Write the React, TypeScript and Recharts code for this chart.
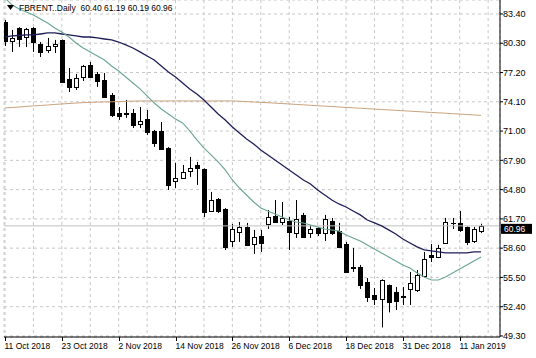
import React from 'react';
import { ComposedChart, Bar, Line, XAxis, YAxis, CartesianGrid, ReferenceLine } from 'recharts';

// FBRENT daily candles, 11 Oct 2018 .. 16 Jan 2019
const dates = [
  '11 Oct 2018', '12 Oct 2018', '15 Oct 2018', '16 Oct 2018', '17 Oct 2018', '18 Oct 2018', '19 Oct 2018', '22 Oct 2018',
  '23 Oct 2018', '24 Oct 2018', '25 Oct 2018', '26 Oct 2018', '29 Oct 2018', '30 Oct 2018', '31 Oct 2018', '1 Nov 2018',
  '2 Nov 2018', '5 Nov 2018', '6 Nov 2018', '7 Nov 2018', '8 Nov 2018', '9 Nov 2018', '12 Nov 2018', '13 Nov 2018',
  '14 Nov 2018', '15 Nov 2018', '16 Nov 2018', '19 Nov 2018', '20 Nov 2018', '21 Nov 2018', '22 Nov 2018', '23 Nov 2018',
  '26 Nov 2018', '27 Nov 2018', '28 Nov 2018', '29 Nov 2018', '30 Nov 2018', '3 Dec 2018', '4 Dec 2018', '5 Dec 2018',
  '6 Dec 2018', '7 Dec 2018', '10 Dec 2018', '11 Dec 2018', '12 Dec 2018', '13 Dec 2018', '14 Dec 2018', '17 Dec 2018',
  '18 Dec 2018', '19 Dec 2018', '20 Dec 2018', '21 Dec 2018', '24 Dec 2018', '26 Dec 2018', '27 Dec 2018', '28 Dec 2018',
  '31 Dec 2018', '2 Jan 2019', '3 Jan 2019', '4 Jan 2019', '7 Jan 2019', '8 Jan 2019', '9 Jan 2019', '10 Jan 2019',
  '11 Jan 2019', '14 Jan 2019', '15 Jan 2019', '16 Jan 2019',
];

const open = [
  82.55, 80.54, 81.92, 80.96, 81.92, 80.22, 79.59, 80.01, 80.65, 76.52, 75.67, 76.73, 78.0, 77.05, 76.41, 74.82,
  72.92, 72.85, 72.92, 71.75, 72.28, 71.01, 71.01, 69.21, 65.72, 66.04, 66.77, 67.41, 66.99, 62.54, 63.81, 62.75,
  59.36, 60.32, 60.84, 59.04, 59.89, 61.16, 62.01, 61.37, 61.48, 60.21, 62.12, 60.21, 60.74, 60.21, 61.48, 60.42,
  59.04, 56.61, 56.61, 55.02, 53.64, 53.22, 54.7, 53.96, 53.53, 54.28, 54.17, 55.65, 57.88, 57.67, 59.15, 61.27,
  61.27, 60.84, 59.36, 60.4,
];
const high = [
  82.76, 81.71, 82.0, 81.92, 82.0, 80.43, 80.86, 80.65, 80.7, 77.68, 77.05, 78.0, 78.32, 77.26, 77.15, 75.03,
  73.55, 74.29, 73.34, 73.55, 73.23, 71.12, 71.96, 69.3, 67.62, 67.41, 68.26, 67.73, 67.05, 64.55, 63.91, 62.85,
  61.16, 61.37, 61.27, 60.53, 60.53, 62.64, 63.7, 63.49, 61.9, 63.7, 62.33, 61.05, 60.84, 62.12, 61.8, 61.27,
  59.26, 58.62, 56.82, 55.44, 54.38, 55.3, 54.75, 54.49, 54.49, 56.08, 56.29, 58.2, 59.04, 58.94, 61.8, 61.8,
  62.54, 60.9, 60.84, 61.19,
];
const low = [
  80.0, 79.38, 79.91, 79.91, 79.38, 78.85, 79.27, 79.27, 76.09, 75.14, 75.35, 76.3, 76.62, 75.67, 74.5, 72.49,
  72.17, 72.39, 71.33, 71.33, 70.59, 69.32, 69.0, 64.76, 64.97, 65.93, 66.14, 65.29, 61.9, 62.43, 62.33, 58.41,
  58.73, 59.26, 58.9, 57.99, 58.2, 60.63, 61.27, 61.05, 58.41, 59.68, 59.68, 59.68, 59.89, 59.36, 60.0, 58.6,
  55.97, 56.08, 54.28, 52.9, 52.58, 50.2, 51.8, 52.05, 52.58, 52.58, 53.96, 55.55, 57.14, 57.56, 59.04, 60.63,
  60.32, 58.94, 59.15, 60.19,
];
const close = [
  80.54, 80.86, 80.75, 81.81, 80.43, 79.38, 80.01, 80.22, 76.2, 75.67, 76.62, 77.89, 76.73, 76.3, 74.61, 72.7,
  72.6, 72.92, 71.65, 72.07, 70.9, 69.74, 69.1, 65.29, 66.04, 66.67, 67.09, 67.09, 62.43, 63.7, 62.54, 58.73,
  60.63, 60.84, 58.94, 59.78, 59.15, 61.9, 61.37, 61.8, 60.32, 61.69, 59.78, 60.63, 60.21, 61.69, 60.21, 58.73,
  56.08, 56.5, 54.71, 53.43, 53.22, 55.23, 52.9, 53.01, 53.43, 54.91, 55.76, 57.45, 57.67, 58.62, 61.37, 61.3,
  60.53, 59.26, 60.63, 60.96,
];

// moving averages as drawn on the chart
const maSlow = [
  80.96, 81.07, 81.12, 81.18, 81.18, 81.28, 81.39, 81.39, 81.28, 81.18, 81.07, 80.96, 80.96, 80.86, 80.75, 80.65,
  80.43, 80.12, 79.8, 79.38, 78.95, 78.53, 77.89, 77.26, 76.73, 76.09, 75.46, 74.93, 74.29, 73.55, 72.81, 72.17,
  71.43, 70.8, 70.16, 69.63, 69.0, 68.47, 67.94, 67.41, 66.88, 66.35, 65.82, 65.4, 64.76, 64.23, 63.7, 63.28,
  62.96, 62.54, 62.12, 61.58, 61.27, 60.95, 60.53, 60.1, 59.57, 59.15, 58.73, 58.41, 58.3, 58.2, 58.09, 58.09,
  58.09, 58.09, 58.2, 58.2,
];
const maFast = [
  85.09, 84.35, 83.93, 83.61, 83.29, 82.87, 82.45, 81.92, 81.49, 80.96, 80.33, 79.8, 79.38, 78.95, 78.53, 77.89,
  77.36, 76.73, 76.09, 75.46, 74.72, 73.97, 73.34, 72.81, 72.28, 71.86, 71.01, 70.06, 69.21, 68.47, 67.73, 66.88,
  65.82, 64.97, 64.23, 63.49, 62.85, 62.54, 62.22, 61.9, 61.58, 61.37, 61.27, 61.05, 60.84, 60.63, 60.53, 60.42,
  60.0, 59.68, 59.36, 58.94, 58.51, 58.09, 57.67, 57.24, 56.82, 56.5, 55.97, 55.55, 55.23, 55.23, 55.55, 55.97,
  56.4, 56.82, 57.24, 57.67,
];
const maLong = [
  73.45, 73.5, 73.55, 73.61, 73.66, 73.71, 73.76, 73.82, 73.87, 73.92, 73.97, 74.01, 74.04, 74.07, 74.08, 74.1,
  74.12, 74.15, 74.17, 74.19, 74.19, 74.19, 74.19, 74.19, 74.19, 74.19, 74.19, 74.19, 74.19, 74.19, 74.19, 74.19,
  74.19, 74.16, 74.12, 74.08, 74.04, 74.0, 73.96, 73.91, 73.87, 73.82, 73.78, 73.73, 73.68, 73.64, 73.59, 73.55,
  73.5, 73.46, 73.42, 73.37, 73.33, 73.28, 73.24, 73.2, 73.15, 73.11, 73.06, 73.02, 72.97, 72.93, 72.89, 72.84,
  72.8, 72.75, 72.71, 72.66,
];

const priceTicks = [49.3, 52.4, 55.5, 58.6, 61.7, 64.8, 67.9, 71.0, 74.1, 77.2, 80.3, 83.4];
const gridTicks = [0, 4, 8, 12, 16, 20, 24, 28, 32, 36, 40, 44, 48, 52, 56, 60, 64, 68];
const labelTicks = [0, 8, 16, 24, 32, 40, 48, 56, 64];

const data = dates.map((d, i) => ({
  i,
  date: d,
  open: open[i],
  high: high[i],
  low: low[i],
  close: close[i],
  range: [low[i], high[i]],
  maSlow: maSlow[i],
  maFast: maFast[i],
  maLong: maLong[i],
}));

const last = data[data.length - 1];
const FONT = '"Liberation Sans", Arial, sans-serif';

const Candle = (props: any) => {
  const { x, y, width, height, payload } = props;
  if (!payload) return null;
  const { open: o, close: c, high: h, low: l } = payload;
  const cx = Math.round(x + width / 2) + 0.5;
  const py = (v: number) => y + ((h - v) / (h - l)) * height;
  const top = Math.round(py(Math.max(o, c))) + 0.5;
  const bot = Math.round(py(Math.min(o, c))) + 0.5;
  const up = c >= o;
  return (
    <g>
      <line x1={cx} x2={cx} y1={y} y2={y + height} stroke="#000" strokeWidth={1} />
      <rect
        x={cx - 2}
        y={top}
        width={4}
        height={Math.max(bot - top, 0.01)}
        fill={up ? '#fff' : '#000'}
        stroke="#000"
        strokeWidth={1}
      />
    </g>
  );
};

const DateTick = (props: any) => {
  const { x, y, payload } = props;
  if (!labelTicks.includes(payload.value)) return null;
  const tx = Math.round(x) + 0.5;
  return (
    <g>
      <line x1={tx} x2={tx} y1={y} y2={y + 4} stroke="#000" />
      <text x={tx - 1} y={y + 12} fontSize={8.5} fontFamily={FONT} fill="#000" textAnchor="start">
        {dates[payload.value]}
      </text>
    </g>
  );
};

const BidLabel = (props: any) => {
  const vb = props.viewBox;
  if (!vb) return null;
  const x0 = vb.x + vb.width + 1;
  const y0 = vb.y;
  return (
    <g>
      <rect x={x0} y={y0 - 2} width={31} height={10} fill="#000" />
      <text x={x0 + 3} y={y0 + 6} fontSize={8.5} fontFamily={FONT} fill="#fff">
        {last.close.toFixed(2)}
      </text>
    </g>
  );
};

export default function App() {
  return (
    <div style={{ position: 'absolute', left: 0, top: 0, width: 536, height: 358, background: '#fff' }}>
      <ComposedChart width={536} height={358} data={data} margin={{ top: 0, right: 0, bottom: 0, left: 4 }}>
        <CartesianGrid stroke="#c8c8c8" strokeDasharray="3 3" />
        <XAxis
          dataKey="i"
          type="number"
          domain={[-0.14, 69.67]}
          allowDataOverflow
          ticks={gridTicks}
          interval={0}
          height={21}
          tickSize={0}
          tickMargin={0}
          tickLine={false}
          axisLine={{ stroke: '#000' }}
          tick={<DateTick />}
        />
        <YAxis
          orientation="right"
          domain={[49.19, 84.88]}
          allowDataOverflow
          ticks={priceTicks}
          interval={0}
          width={36}
          tickSize={3}
          tickMargin={0}
          tickFormatter={(v: number) => v.toFixed(2)}
          tick={{ fontSize: 9, fontFamily: FONT, fill: '#000' }}
          axisLine={{ stroke: '#000' }}
          tickLine={{ stroke: '#000' }}
        />
        <YAxis yAxisId="frame" orientation="left" width={0} tick={false} tickLine={false} axisLine={{ stroke: '#000' }} />
        <ReferenceLine y={last.close} stroke="#c0c0c0" strokeWidth={1} label={<BidLabel />} />
        <Line dataKey="maLong" stroke="#c9a27e" strokeWidth={1} dot={false} activeDot={false} isAnimationActive={false} />
        <Line dataKey="maSlow" stroke="#1e1e58" strokeWidth={1.3} dot={false} activeDot={false} isAnimationActive={false} />
        <Line dataKey="maFast" stroke="#6aa595" strokeWidth={1.1} dot={false} activeDot={false} isAnimationActive={false} />
        <Bar dataKey="range" barSize={5} shape={<Candle />} isAnimationActive={false} />
      </ComposedChart>
      <div
        style={{
          position: 'absolute',
          left: 7,
          top: 3,
          fontFamily: FONT,
          fontSize: 8.5,
          lineHeight: '10px',
          color: '#000',
          whiteSpace: 'nowrap',
          display: 'flex',
          alignItems: 'center',
        }}
      >
        <svg width={8} height={6} style={{ marginRight: 4 }}>
          <polygon points="0,0 7,0 3.5,5" fill="#000" />
        </svg>
        <span>FBRENT..Daily&nbsp;&nbsp;{`${last.open.toFixed(2)} ${last.high.toFixed(2)} ${last.low.toFixed(2)} ${last.close.toFixed(2)}`}</span>
      </div>
    </div>
  );
}
